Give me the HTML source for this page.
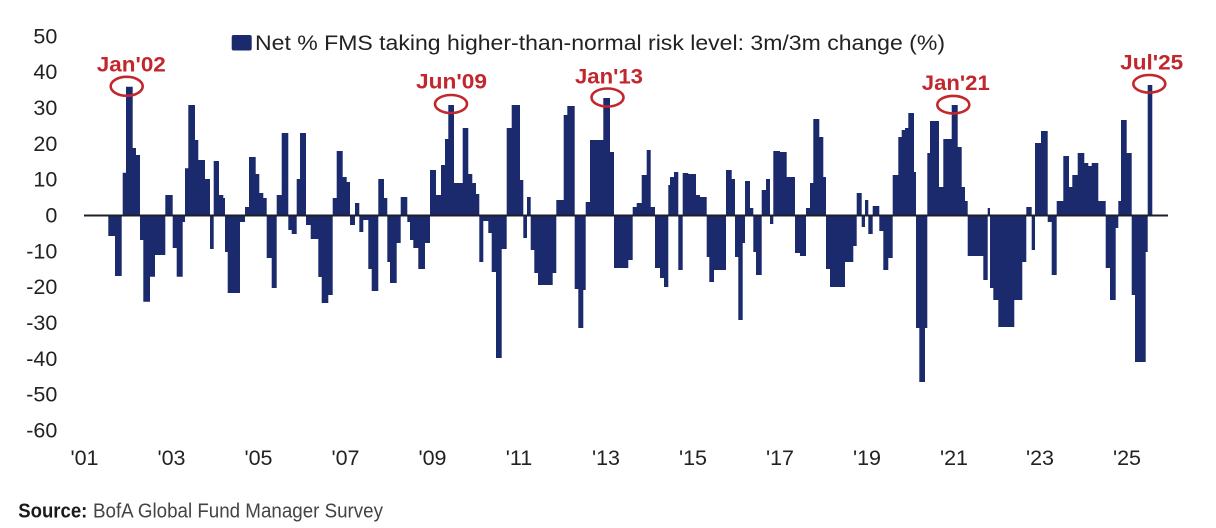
<!DOCTYPE html>
<html>
<head>
<meta charset="utf-8">
<style>
html,body{margin:0;padding:0;background:#fff;}
svg{display:block;}
</style>
</head>
<body>
<svg width="1216" height="528" viewBox="0 0 1216 528" xmlns="http://www.w3.org/2000/svg">
<rect width="1216" height="528" fill="#fff"/>
<rect x="231.7" y="35" width="20" height="15.5" rx="2" fill="#1b2a6c"/>
<text x="255" y="50" font-family="Liberation Sans, sans-serif" font-size="21.5" fill="#222" textLength="690" lengthAdjust="spacingAndGlyphs">Net % FMS taking higher-than-normal risk level: 3m/3m change (%)</text>
<g font-family="Liberation Sans, sans-serif" font-size="21.5" fill="#222" text-anchor="end">
<text x="57.3" y="43.3">50</text>
<text x="57.3" y="79.1">40</text>
<text x="57.3" y="115">30</text>
<text x="57.3" y="150.8">20</text>
<text x="57.3" y="186.6">10</text>
<text x="57.3" y="222.5">0</text>
<text x="57.3" y="258.3">-10</text>
<text x="57.3" y="294.1">-20</text>
<text x="57.3" y="329.9">-30</text>
<text x="57.3" y="365.8">-40</text>
<text x="57.3" y="401.6">-50</text>
<text x="57.3" y="437.4">-60</text>
</g>
<g font-family="Liberation Sans, sans-serif" font-size="21.5" fill="#222" text-anchor="middle">
<text x="84.5" y="465">'01</text>
<text x="171.5" y="465">'03</text>
<text x="258.5" y="465">'05</text>
<text x="345.5" y="465">'07</text>
<text x="432.5" y="465">'09</text>
<text x="519" y="465">'11</text>
<text x="606" y="465">'13</text>
<text x="693" y="465">'15</text>
<text x="780" y="465">'17</text>
<text x="867" y="465">'19</text>
<text x="954" y="465">'21</text>
<text x="1040" y="465">'23</text>
<text x="1127" y="465">'25</text>
</g>
<path fill="#1b2a6c" d="M108.3 215.5V236H115V276H121.7V215.5H122.7V172.7H126V86.7H132.7V148H136V155H140V240H143.3V301.7H150V276.7H155V255H165.3V195H172.7V248H176.7V276.7H182.7V222H185V168.3H188.3V105H195V140H198.3V160H205V179H210V249H213.7V161H219V195H223.3V198H225V252H227.7V293H240V222H245V207H249V157H255.7V174H259.3V193H263.3V198H266.7V258H271.7V288H276.7V195H281.7V133H288.3V230H291.7V234H296.7V179H300V133H306V225H310.7V239H318.3V277H321.7V303H328.3V295H332.7V198H336.7V151H342.7V177H346.7V182H350V225H355V203H359.3V232H363.3V220H368.3V269H371.7V291H378.3V179H384V198H387.3V262H390V283H396.7V243H400.7V197H407.3V222H410V240H413.3V248H418.3V269H425V243H430V170H436V195H441V165H445V139H448.3V105H454V183H462.7V128H468.3V174H472.3V183H476V194H479.3V262H483.3V221H488.3V233H491.7V272H496V358H501.7V249H506.7V128H511.7V105H520V180H523.3V238H527V197H530.7V250H534.3V273H538V285H552.7V273H556.3V200H563.7V115H567.3V106H574.7V289H578.3V328H583.3V290H585.7V202H590V140H603.3V98H610V152H614V268H628.3V260H632.7V207H636.7V203H641.7V175H646.7V150H650.7V207H655V268H660V278H664V287H668.3V185H670V177H674V172H678.3V270H682.7V173H688.3V174H696V195H700V197H706.7V257H709.3V282H714V270H726V170H731.7V179H735V257H738.3V320H742.7V243H745V181H750V208H753.3V252H756V275H761.7V190H766V179H770V224H773.3V151H780V152H786.7V177H795V253H800V256H806V208H810V183H813.3V119H819.3V137H823.3V177H826V269H830V287H845V262H853.3V246H856.7V193H861.7V227H865V200H868.3V234H872.7V206H879.3V231H883.3V270H888.3V258H892.7V175H898.3V137H901.7V130H905V128H908.3V113H914V172H916V328H919.3V382H925V328H927.3V153H930V121H939V187H943.3V139H951.7V105H957.7V147H961.7V187H965V201H967.7V256H983.3V280H987.7V208H990V288H993.3V300H998.3V327H1014.3V300H1022.3V262H1026.3V207H1031.7V250H1035V143H1041V131H1047.7V222H1051.7V275H1056.7V201H1063.3V156H1069V187H1072.3V175H1077.7V153H1084.3V163H1088.3V166H1091.7V163H1098.3V201H1105.7V268H1110V300H1115.7V228H1118.3V201H1121V120H1126.7V153H1131.7V295H1135V362H1145.7V252H1147.7V85H1152.3V215.5Z"/>
<line x1="84" y1="215.5" x2="1168" y2="215.5" stroke="#1e1e28" stroke-width="2"/>
<g fill="none" stroke="#c1272d" stroke-width="2.6">
<ellipse cx="126.7" cy="86.3" rx="16" ry="9.5"/>
<ellipse cx="451" cy="104" rx="16" ry="9"/>
<ellipse cx="607.5" cy="97.5" rx="16" ry="9"/>
<ellipse cx="953.3" cy="104.7" rx="16" ry="8.8"/>
<ellipse cx="1149.3" cy="83.8" rx="16" ry="8.8"/>
</g>
<g font-family="Liberation Sans, sans-serif" font-size="21" font-weight="bold" fill="#c1272d" text-anchor="middle">
<text x="131.3" y="71.7" textLength="69" lengthAdjust="spacingAndGlyphs">Jan'02</text>
<text x="451.5" y="88.3" textLength="71" lengthAdjust="spacingAndGlyphs">Jun'09</text>
<text x="609" y="83.3" textLength="68" lengthAdjust="spacingAndGlyphs">Jan'13</text>
<text x="955.8" y="90" textLength="68" lengthAdjust="spacingAndGlyphs">Jan'21</text>
<text x="1151.7" y="69.3" textLength="63" lengthAdjust="spacingAndGlyphs">Jul'25</text>
</g>
<text x="18.3" y="517.3" font-family="Liberation Sans Narrow, Liberation Sans, sans-serif" font-size="20" font-weight="bold" fill="#1a1a1a" textLength="69" lengthAdjust="spacingAndGlyphs">Source:</text>
<text x="93" y="517.3" font-family="Liberation Sans Narrow, Liberation Sans, sans-serif" font-size="20" fill="#444" textLength="290" lengthAdjust="spacingAndGlyphs">BofA Global Fund Manager Survey</text>
</svg>
</body>
</html>
